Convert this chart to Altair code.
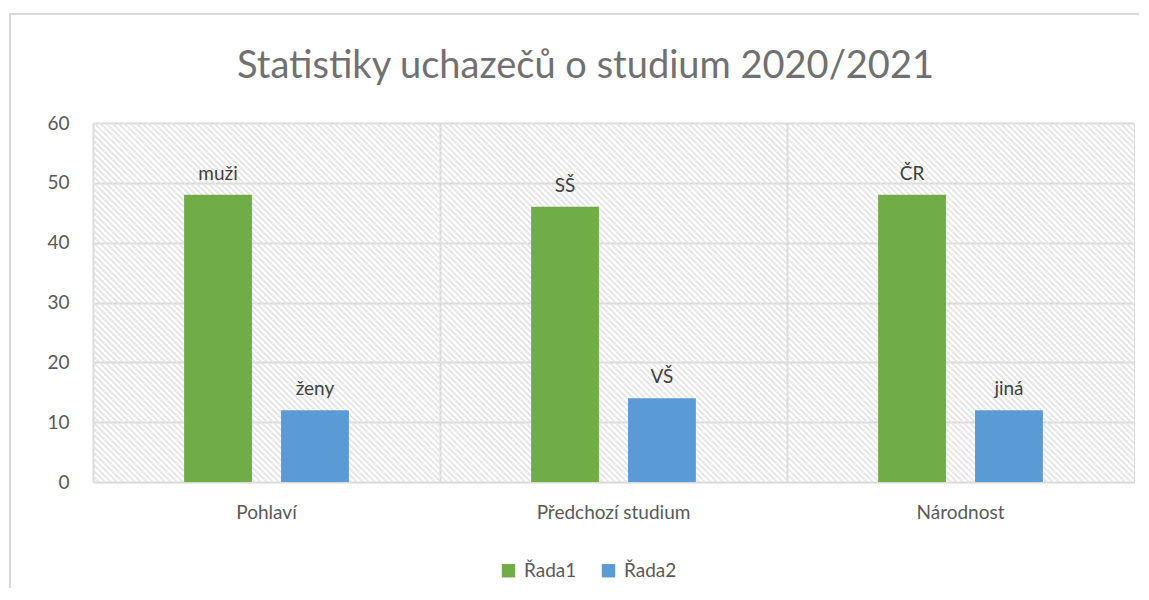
import altair as alt
import pandas as pd

# --- data ---
categories = ["Pohlaví", "Předchozí studium", "Národnost"]
series_names = ["Řada1", "Řada2"]
rada1_values = [48, 46, 48]
rada2_values = [12, 14, 12]
rada1_labels = ["muži", "SŠ", "ČR"]
rada2_labels = ["ženy", "VŠ", "jiná"]
y_ticks = [0, 10, 20, 30, 40, 50, 60]

rows = []
for i, c in enumerate(categories):
    rows.append({"kat": c, "rada": series_names[0], "hodnota": rada1_values[i], "popis": rada1_labels[i]})
    rows.append({"kat": c, "rada": series_names[1], "hodnota": rada2_values[i], "popis": rada2_labels[i]})
df = pd.DataFrame(rows)

W, H = 1041, 359
FONT = "Lato"
TXT = "#595959"
GRID = "#d9d9d9"
FS = 19

# background hatch (decorative diagonal stripes inside the plot area)
hatch = (
    alt.Chart(alt.sequence(start=-H, stop=W, step=6, as_="s"))
    .transform_calculate(x1="datum.s", x2="datum.s + %d" % H, y1="0", y2="%d" % H)
    .mark_rule(color="#e3e3e3", strokeWidth=1.6, clip=True)
    .encode(
        x=alt.X("x1:Q", scale=None, axis=None),
        x2="x2:Q",
        y=alt.Y("y1:Q", scale=None, axis=None),
        y2="y2:Q",
    )
)

frame = (
    alt.Chart(pd.DataFrame({"a": [0]}))
    .mark_rect(fill=None, stroke=GRID, strokeWidth=2, clip=False)
    .encode(x=alt.value(-83), x2=alt.value(W + 60), y=alt.value(-109), y2=alt.value(H + 200))
)

base = alt.Chart(df).encode(
    x=alt.X(
        "kat:N",
        sort=categories,
        title=None,
        scale=alt.Scale(paddingInner=0, paddingOuter=0),
        axis=alt.Axis(
            labelAngle=0, labelFont=FONT, labelFontSize=FS, labelColor=TXT,
            labelPadding=21, ticks=False, domain=False,
            grid=True, gridColor=GRID, gridWidth=2, bandPosition=0,
        ),
    ),
    xOffset=alt.XOffset(
        "rada:N", sort=series_names,
        scale=alt.Scale(paddingInner=0.3, paddingOuter=0.94),
    ),
    y=alt.Y(
        "hodnota:Q",
        title=None,
        scale=alt.Scale(domain=[0, 60], nice=False),
        axis=alt.Axis(
            values=y_ticks, labelFont=FONT, labelFontSize=FS, labelColor=TXT,
            labelPadding=24, ticks=False, domain=False,
            gridColor=GRID, gridWidth=2,
        ),
    ),
)

bars = base.mark_bar().encode(
    color=alt.Color(
        "rada:N", sort=series_names,
        scale=alt.Scale(domain=series_names, range=["#70AD47", "#5B9BD5"]),
        legend=alt.Legend(
            title=None, orient="none", direction="horizontal",
            legendX=406, legendY=438, symbolType="square", symbolSize=180,
            symbolStrokeWidth=0, labelFont=FONT, labelFontSize=FS, labelColor=TXT,
            columnPadding=22, padding=0, labelOffset=6,
        ),
    )
)

labels = base.mark_text(
    baseline="bottom", dy=-11, font=FONT, fontSize=FS, color="#404040"
).encode(text="popis:N")

chart = (
    alt.layer(frame, hatch, bars, labels)
    .properties(
        width=W,
        height=H,
        autosize=alt.AutoSizeParams(type="none"),
        padding={"left": 85, "top": 115, "right": 5, "bottom": 106},
        title=alt.TitleParams(
            "Statistiky uchazečů o studium 2020/2021",
            font=FONT, fontSize=38, fontWeight="normal", color="#707070",
            anchor="middle", dx=-28, offset=-73,
        ),
    )
    .configure_view(stroke=GRID, strokeWidth=2)
    .configure(background="white")
)

chart.save("out.html", embed_options={"renderer": "svg", "actions": False})
